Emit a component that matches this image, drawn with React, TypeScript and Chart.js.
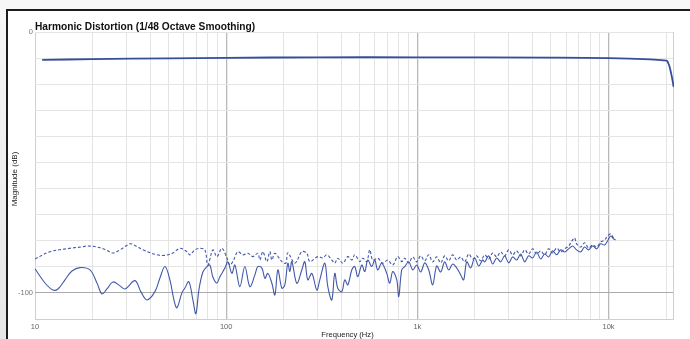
import React, { useEffect, useRef } from 'react';
import { Chart, registerables } from 'chart.js';

Chart.register(...registerables);

// Fundamental response (Hz / dB)
const fundamentalFreq = [10.9, 20, 50, 100, 300, 1000, 5000, 10000, 16500, 20100, 20500, 20860, 21200, 21550, 21890];
const fundamentalDb = [-10.7, -10.4, -10.1, -9.9, -9.7, -9.7, -9.8, -10.0, -10.5, -11.0, -11.8, -13.3, -15.5, -18.0, -21.0];

// Dashed harmonic (Hz / dB)
const h2Freq = [
  10, 11.98, 15.24, 17.82, 18.7, 21.1, 23.5, 25.57, 27.82, 31.38, 33.32, 36.69, 43.43, 47.82, 52.66, 57.28,
  62.33, 64.61, 68.61, 72.86, 77.38, 80.21, 85.19, 89.4, 94.96, 100.9, 104.5, 108.4, 115.1, 122.3, 129.9,
  137.9, 146.4, 150.1, 155.6, 163.2, 169.2, 173.4, 179.8, 195.6, 205.1, 210.1, 228.6, 248.7, 264.1, 273.8,
  301.5, 320.2, 336.0, 356.8, 369.9, 383.5, 407.4, 432.7, 453.9, 470.6, 499.9, 518.3, 543.8, 563.7, 584.4,
  620.7, 659.2, 700.1, 743.5, 789.6, 828.6, 859.0, 901.4, 945.9, 992.5, 1041, 1093, 1147, 1203, 1262, 1325,
  1390, 1459, 1531, 1606, 1686, 1769, 1856, 1948, 2044, 2145, 2251, 2361, 2477, 2600, 2728, 2862, 3003, 3151,
  3307, 3470, 3641, 3820, 4009, 4206, 4414, 4632, 4861, 5101, 5352, 5617, 5894, 6185, 6490, 6648, 6808, 7145,
  7497, 7867, 8255, 8663, 9090, 9535, 9886, 10250, 10630, 10890,
];
const h2Db = [
  -87.0, -84.2, -82.9, -82.3, -82.0, -82.4, -83.5, -84.7, -83.5, -81.2, -81.8, -83.5, -85.4, -85.6, -84.7, -82.9,
  -84.2, -85.4, -83.5, -82.9, -83.5, -89.3, -83.5, -86.1, -82.9, -86.6, -89.3, -88.0, -84.2, -85.4, -84.8,
  -86.1, -84.8, -87.4, -84.2, -88.0, -84.2, -87.4, -84.8, -88.0, -88.6, -84.6, -88.6, -84.2, -84.8, -88.0,
  -86.1, -86.6, -85.4, -87.4, -88.6, -86.7, -88.6, -86.1, -87.4, -85.4, -88.0, -86.7, -88.0, -83.5, -87.4,
  -86.7, -88.6, -87.4, -89.3, -86.1, -88.0, -86.7, -88.5, -86.2, -88.1, -85.8, -87.7, -85.4, -88.1, -86.2, -88.5,
  -85.8, -87.7, -85.4, -87.4, -86.2, -88.1, -85.1, -87.0, -85.8, -87.7, -85.4, -87.0, -84.7, -86.2, -84.3, -85.8, -83.5, -85.4,
  -83.9, -85.8, -83.5, -85.1, -83.1, -85.1, -83.9, -85.4, -83.1, -84.7, -82.8, -84.3, -83.1, -82.0, -79.7, -78.9, -81.2, -82.4,
  -80.8, -82.8, -81.6, -82.4, -80.5, -79.7, -78.2, -77.4, -78.9, -78.9,
];

// Solid harmonic (Hz / dB)
const h3Freq = [
  10, 11.28, 12.42, 13.19, 14.35, 15.61, 17.19, 19.39, 21.1, 22.4, 23.79, 25.57, 27.82, 29.55, 33.32, 35.81,
  38.5, 42.4, 45.03, 47.82, 50.8, 53.3, 55.26, 58.68, 60.84, 63.83, 66.98, 69.44, 71.98, 75.54, 79.26, 82.17,
  85.19, 89.4, 92.71, 98.45, 102.1, 107.1, 111.0, 117.9, 125.2, 133.0, 141.3, 146.4, 153.7, 159.4, 165.2,
  173.4, 179.8, 186.4, 195.6, 202.7, 210.1, 215.3, 220.5, 234.2, 248.7, 257.8, 267.3, 280.5, 297.9, 308.8,
  328.1, 340.1, 356.8, 369.9, 383.5, 402.5, 417.3, 432.7, 453.9, 470.6, 488.0, 512.1, 530.9, 550.4, 577.4,
  598.6, 620.7, 651.3, 691.7, 717.1, 743.5, 780.2, 799.2, 828.6, 859.0, 901.4, 945.9, 992.5, 1041, 1093, 1147,
  1203, 1262, 1325, 1390, 1459, 1531, 1606, 1686, 1747, 1812, 1901, 1995, 2094, 2197, 2251, 2361, 2477, 2600,
  2728, 2862, 3003, 3151, 3307, 3470, 3641, 3820, 4009, 4206, 4414, 4632, 4861, 5101, 5352, 5617, 5894, 6185,
  6490, 6808, 7145, 7497, 7867, 8255, 8663, 9090, 9535, 9886, 10250, 10630, 10890,
];
const h3Db = [
  -90.8, -96.2, -98.9, -98.5, -95.0, -91.6, -90.3, -91.2, -96.2, -100.4, -98.5, -95.8, -97.3, -98.5, -95.3, -99.6,
  -102.7, -99.5, -94.3, -89.9, -95.0, -102.7, -105.7, -100.0, -98.1, -95.7, -102.7, -108.0, -98.9, -92.0, -89.9, -89.3,
  -93.9, -96.2, -93.8, -90.5, -88.1, -92.5, -89.3, -97.6, -89.9, -97.6, -93.1, -89.9, -90.5, -94.4, -92.5,
  -96.3, -100.8, -91.2, -98.2, -96.9, -88.6, -91.8, -88.0, -96.3, -91.2, -88.0, -95.0, -92.5, -98.9, -95.0,
  -88.6, -97.6, -102.7, -92.5, -98.2, -99.5, -95.0, -96.9, -91.2, -89.9, -93.8, -89.3, -91.8, -87.4, -89.9,
  -87.4, -91.2, -88.6, -92.5, -96.3, -91.8, -95.0, -101.4, -91.2, -89.9, -88.1, -91.2, -89.3, -92.0, -88.5, -91.2,
  -96.9, -89.7, -92.0, -88.1, -91.2, -88.9, -90.4, -93.1, -95.0, -88.1, -90.4, -86.6, -89.7, -87.4, -88.1, -85.8, -88.9, -86.6,
  -88.1, -85.8, -88.5, -86.2, -87.4, -85.1, -88.1, -85.8, -86.6, -84.3, -87.0, -85.1, -86.2, -83.9, -85.4, -83.5, -84.3, -83.1,
  -82.0, -83.5, -84.3, -82.4, -83.5, -82.0, -83.1, -81.2, -81.6, -80.1, -78.2, -79.3, -79.7,
];

const xTickValues = [
  10, 20, 30, 40, 50, 60, 70, 80, 90,
  100, 200, 300, 400, 500, 600, 700, 800, 900,
  1000, 2000, 3000, 4000, 5000, 6000, 7000, 8000, 9000,
  10000, 20000,
];
const xTickLabels: Record<number, string> = { 10: '10', 100: '100', 1000: '1k', 10000: '10k' };
const xMajor = [100, 1000, 10000];
const yTickValues = [-110, -100, -90, -80, -70, -60, -50, -40, -30, -20, -10, 0];
const yTickLabels = [0, -100];

const FONT = '"Liberation Sans", Arial, Helvetica, sans-serif';
const FUND_COLOR = '#354c9f';
const HARM_COLOR = '#4258a9';

export default function App() {
  const ref = useRef<HTMLCanvasElement | null>(null);

  useEffect(() => {
    const canvas = ref.current;
    if (!canvas) return;
    const pts = (f: number[], d: number[]) => f.map((x, i) => ({ x, y: d[i] }));

    const textPlugin = {
      id: 'texts',
      beforeDatasetsDraw(chart: any) {
        const { ctx, chartArea } = chart;
        ctx.save();
        ctx.strokeStyle = '#cfcfcf';
        ctx.lineWidth = 1;
        ctx.beginPath();
        ctx.moveTo(Math.round(chartArea.right) - 0.5, chartArea.top);
        ctx.lineTo(Math.round(chartArea.right) - 0.5, chartArea.bottom);
        ctx.stroke();
        ctx.restore();
      },
      afterDraw(chart: any) {
        const { ctx, chartArea } = chart;
        ctx.save();
        ctx.fillStyle = '#111';
        ctx.textAlign = 'left';
        ctx.textBaseline = 'alphabetic';
        ctx.font = `bold 10.2px ${FONT}`;
        ctx.fillText('Harmonic Distortion (1/48 Octave Smoothing)', chartArea.left, 30);
        ctx.fillStyle = '#222';
        ctx.font = `7.6px ${FONT}`;
        ctx.textAlign = 'center';
        ctx.fillText('Frequency (Hz)', 347.5, 337);
        ctx.font = `8px ${FONT}`;
        ctx.translate(17, 179);
        ctx.rotate(-Math.PI / 2);
        ctx.fillText('Magnitude (dB)', 0, 0);
        ctx.restore();
      },
    };

    const chart = new Chart(canvas, {
      type: 'line',
      data: {
        datasets: [
          {
            data: pts(fundamentalFreq, fundamentalDb),
            borderColor: FUND_COLOR,
            borderWidth: 1.8,
            pointRadius: 0,
            tension: 0.4,
          },
          {
            data: pts(h2Freq, h2Db),
            borderColor: HARM_COLOR,
            borderWidth: 1.1,
            borderDash: [3, 2],
            pointRadius: 0,
            tension: 0.35,
          },
          {
            data: pts(h3Freq, h3Db),
            borderColor: HARM_COLOR,
            borderWidth: 1.1,
            pointRadius: 0,
            tension: 0.35,
          },
        ],
      },
      options: {
        animation: false,
        responsive: false,
        devicePixelRatio: 1,
        layout: { padding: { top: 32, right: 16, left: 0, bottom: 0 } },
        plugins: { legend: { display: false }, tooltip: { enabled: false }, title: { display: false } },
        scales: {
          x: {
            type: 'logarithmic',
            min: 10,
            max: 22000,
            afterBuildTicks: (s: any) => {
              s.ticks = xTickValues.map((v) => ({ value: v }));
            },
            afterFit: (s: any) => {
              s.height = 20;
            },
            ticks: {
              autoSkip: false,
              maxRotation: 0,
              minRotation: 0,
              padding: 3,
              color: '#666',
              font: { family: FONT, size: 7.5 },
              callback: (v: any) => xTickLabels[Number(v)] ?? '',
            },
            grid: {
              drawTicks: false,
              color: (c: any) => {
                const v = c.tick?.value;
                if (v === 10) return '#cfcfcf';
                return xMajor.includes(v) ? '#b9b9b9' : '#e4e4e4';
              },
              lineWidth: (c: any) => (xMajor.includes(c.tick?.value) ? 1.3 : 1),
            },
            border: { display: false },
          },
          y: {
            type: 'linear',
            min: -110,
            max: 0,
            afterBuildTicks: (s: any) => {
              s.ticks = yTickValues.map((v) => ({ value: v }));
            },
            afterFit: (s: any) => {
              s.width = 35;
            },
            ticks: {
              autoSkip: false,
              padding: 2,
              color: '#777',
              font: { family: FONT, size: 7.5 },
              callback: (v: any) => (yTickLabels.includes(Number(v)) ? String(v) : ''),
            },
            grid: {
              drawTicks: false,
              color: (c: any) => {
                const v = c.tick?.value;
                if (v === -100) return '#ababab';
                if (v === -110) return '#cfcfcf';
                return '#e4e4e4';
              },
            },
            border: { display: false },
          },
        },
      },
      plugins: [textPlugin],
    } as any);

    return () => chart.destroy();
  }, []);

  return (
    <div
      style={{
        position: 'fixed',
        left: 0,
        top: 0,
        width: 690,
        height: 339,
        overflow: 'hidden',
        background: 'linear-gradient(#f7f7f7, #e6e6e6)',
      }}
    >
      <div
        style={{
          position: 'absolute',
          left: 6,
          top: 9,
          right: 0,
          bottom: 0,
          background: '#fff',
          borderTop: '2px solid #1c1c1c',
          borderLeft: '2px solid #1c1c1c',
        }}
      />
      <canvas
        ref={ref}
        width={690}
        height={339}
        style={{ position: 'absolute', left: 0, top: 0, display: 'block' }}
      />
    </div>
  );
}
